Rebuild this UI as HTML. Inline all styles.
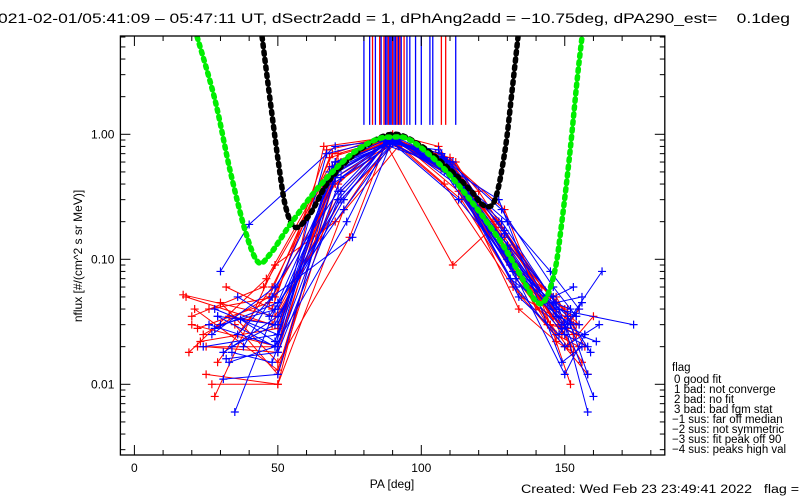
<!DOCTYPE html>
<html><head><meta charset="utf-8"><style>
html,body{margin:0;padding:0;background:#fff;}
svg{display:block;font-family:"Liberation Sans",sans-serif;}
</style></head><body>
<svg id="chart" width="800" height="500" viewBox="0 0 800 500">
<rect x="0" y="0" width="800" height="500" fill="#fff"/>
<text x="-2" y="23" font-size="13.5" fill="#000" xml:space="preserve" style="white-space:pre" textLength="792" lengthAdjust="spacingAndGlyphs">021-02-01/05:41:09 – 05:47:11 UT, dSectr2add = 1, dPhAng2add = −10.75deg, dPA290_est=    0.1deg</text>
<g id="marks"></g>
<g id="axes"></g>
<text transform="translate(82,256) rotate(-90)" text-anchor="middle" font-size="12">nflux [#/(cm^2 s sr MeV)]</text>
<text x="392" y="488" text-anchor="middle" font-size="12">PA [deg]</text>
<text x="521" y="493" font-size="11.5" xml:space="preserve" style="white-space:pre" textLength="290" lengthAdjust="spacingAndGlyphs">Created: Wed Feb 23 23:49:41 2022   flag = 0</text>
<g font-size="11.5" xml:space="preserve" style="white-space:pre">
<text x="672" y="371">flag</text>
<text x="674" y="383"> 0 good fit</text>
<text x="674" y="393"> 1 bad: not converge</text>
<text x="674" y="403"> 2 bad: no fit</text>
<text x="674" y="413"> 3 bad: bad fgm stat</text>
<text x="672" y="423">−1 sus: far off median</text>
<text x="672" y="433">−2 sus: not symmetric</text>
<text x="672" y="443">−3 sus: fit peak off 90</text>
<text x="672" y="453">−4 sus: peaks high val</text>
</g>
</svg>
<script>
// ---- data ----
const xTicks = [0, 50, 100, 150];
const xTickLabels = ["0", "50", "100", "150"];
const yTicks = [1, 0.1, 0.01];
const yTickLabels = ["1.00", "0.10", "0.01"];

const redPA = [
 [20,45,68,88,105,125,140,150],[25,50,70,90,110,130,148,152],[18,48,72,91,112,128,145,155],
 [22,50,66,89,108,132,150,158],[28,49,70,92,114,135,146,153],[30,50,75,88,110,120,142,150],
 [24,47,69,90,106,130,148,156],[35,50,71,87,111,127,143,154],[19,46,68,91,109,133,151,160],
 [27,50,73,89,107,129,145,152],[32,48,67,90,113,131,147,157],[21,50,70,92,110,126,149,155],
 [17,49,72,90,108,128,144,151],[23,50,71,89,112,134,147,153],[26,49,68,90,110,129,146,150],
 [20,50,70,91,109,131,148,154],[29,48,69,89,111,127,145,152],[33,50,72,90,108,130,147,155],
 [22,47,70,92,110,128,149,151],[25,50,71,88,109,132,144,153]
];
const redVal = [
 [0.035,0.06,0.5,0.95,0.7,0.2,0.04,0.03],[0.012,0.01,0.6,0.9,0.5,0.1,0.03,0.02],
 [0.05,0.03,0.3,0.85,0.6,0.15,0.05,0.03],[0.02,0.02,0.8,0.95,0.4,0.06,0.02,0.012],
 [0.008,0.09,0.2,0.8,0.3,0.05,0.035,0.025],[0.045,0.015,0.15,0.9,0.65,0.35,0.06,0.04],
 [0.025,0.05,0.7,1.0,0.8,0.12,0.03,0.015],[0.03,0.012,0.4,0.9,0.09,0.2,0.045,0.03],
 [0.018,0.07,0.55,0.92,0.55,0.07,0.02,0.035],[0.01,0.01,0.25,0.88,0.7,0.25,0.03,0.01],
 [0.06,0.04,0.75,0.97,0.35,0.09,0.05,0.02],[0.04,0.013,0.45,0.9,0.6,0.18,0.025,0.04],
 [0.052,0.035,0.35,0.9,0.55,0.12,0.03,0.028],[0.022,0.028,0.6,0.93,0.45,0.04,0.022,0.018],
 [0.04,0.05,0.65,0.92,0.6,0.15,0.04,0.03],[0.03,0.02,0.5,0.9,0.5,0.1,0.03,0.025],
 [0.015,0.06,0.55,0.88,0.45,0.2,0.05,0.035],[0.035,0.03,0.6,0.93,0.55,0.12,0.025,0.02],
 [0.028,0.045,0.4,0.9,0.6,0.18,0.03,0.04],[0.02,0.018,0.7,0.9,0.5,0.08,0.045,0.03]
];
const bluePA = [
 [30,40,70,89,110,130,150,158],[35,49,72,90,108,132,148,160],[26,50,68,91,112,128,146,153],
 [33,49,74,88,106,133,150,162],[29,50,70,90,110,130,145,155],[38,48,76,89,109,127,149,156],
 [31,50,69,92,111,131,152,158],[27,49,71,88,107,129,147,174],[36,47,73,90,113,130,150,157],
 [24,50,67,91,110,134,148,163],[34,48,72,89,108,128,146,154],[28,50,70,90,109,132,151,159],
 [32,50,71,89,111,129,147,156],[37,49,69,91,107,131,149,161],[30,50,70,90,110,130,147,155],
 [34,49,72,89,109,129,149,157],[28,50,71,91,111,131,146,152],[36,48,69,90,108,133,150,158],
 [31,50,73,88,110,128,148,154],[29,49,70,92,112,130,151,156]
];
const blueVal = [
 [0.08,0.19,0.8,0.9,0.6,0.1,0.03,0.006],[0.006,0.04,0.3,0.85,0.5,0.08,0.04,0.008],
 [0.03,0.02,0.5,0.9,0.4,0.15,0.05,0.06],[0.015,0.02,0.2,0.85,0.75,0.06,0.02,0.03],
 [0.035,0.03,0.6,0.95,0.5,0.2,0.08,0.04],[0.02,0.05,0.15,0.8,0.55,0.3,0.015,0.02],
 [0.011,0.012,0.4,0.9,0.45,0.07,0.03,0.012],[0.025,0.06,0.35,0.9,0.7,0.12,0.04,0.03],
 [0.05,0.035,0.25,0.85,0.3,0.1,0.012,0.025],[0.02,0.025,0.7,0.95,0.6,0.05,0.025,0.08],
 [0.018,0.015,0.45,0.88,0.65,0.25,0.06,0.035],[0.028,0.045,0.5,0.9,0.5,0.09,0.035,0.018],
 [0.016,0.018,0.3,0.9,0.6,0.16,0.045,0.05],[0.033,0.022,0.55,0.87,0.7,0.11,0.028,0.022],
 [0.03,0.04,0.45,0.9,0.55,0.13,0.035,0.03],[0.02,0.03,0.35,0.88,0.6,0.17,0.03,0.025],
 [0.04,0.025,0.5,0.92,0.5,0.09,0.045,0.04],[0.025,0.05,0.55,0.9,0.65,0.07,0.025,0.02],
 [0.018,0.035,0.3,0.87,0.5,0.2,0.04,0.035],[0.035,0.02,0.6,0.9,0.45,0.12,0.03,0.045]
];
const peakRedPA = [83,85.5,87,88.5,90,91.5,92.5,94,107,108.5];
const peakBluePA = [80,82,84,86,87.5,88,89,89.5,90.5,91,92,93,95,96,98,100,103,104,112];
const peakLineTop = 1.19;
const greenPA = [21.9,28.1,33.3,38.6,43.1,47.3,54.3,64.7,75.2,83.9,89.8,96.1,106.6,117,127.5,134.5,139.7,143.1,146.6,149,151.9,154.3,156];
const greenVal = [6,1.88,0.52,0.17,0.095,0.11,0.19,0.39,0.68,0.9,0.95,0.9,0.57,0.3,0.14,0.075,0.047,0.047,0.082,0.2,0.75,2.7,6];
const blackPA = [44.5,47.3,50.1,52.6,56,61.2,68,78.6,89.8,99.5,110,117,121.8,125.7,129.2,131.6,133.7];
const blackVal = [6,1.88,0.62,0.27,0.18,0.23,0.43,0.75,1.0,0.82,0.52,0.36,0.27,0.3,0.75,2.2,6];

// ---- scales ----
const L=120.4, R=664.8, T=36, B=455;
const X = d => 134.4 + 2.869*d;
const Y = v => 134.3 - 125*Math.log10(v);
const NS="http://www.w3.org/2000/svg";
const marks=document.getElementById('marks');
const axes=document.getElementById('axes');
function mk(tag, attrs, parent){const e=document.createElementNS(NS,tag);for(const k in attrs)e.setAttribute(k,attrs[k]);parent.appendChild(e);return e;}

const clip=mk('clipPath',{id:'pc'},marks);
mk('rect',{x:L,y:T,width:R-L,height:B-T},clip);
const plot=mk('g',{'clip-path':'url(#pc)'},marks);

function drawSeries(pas, vals, color, name){
  for(let s=0;s<pas.length;s++){
    const g=mk('g',{},plot);
    
    
    const pts=pas[s].map((p,i)=>X(p).toFixed(1)+','+Y(vals[s][i]).toFixed(1)).join(' ');
    mk('polyline',{points:pts,fill:'none',stroke:color,'stroke-width':1},g);
    pas[s].forEach((p,i)=>{
      const x=X(p),y=Y(vals[s][i]);
      mk('path',{d:`M${x-4},${y}H${x+4}M${x},${y-4}V${y+4}`,stroke:color,'stroke-width':1.2},g);
    });
  }
}
function drawPeaks(pas,color,name){
  pas.forEach(p=>{
    const l=mk('line',{x1:X(p),x2:X(p),y1:T,y2:Y(peakLineTop),stroke:color,'stroke-width':1.3},plot);
    
    
  });
}
drawPeaks(peakBluePA,'#0000ff','peak-line-blue');
drawPeaks(peakRedPA,'#ff0000','peak-line-red');
drawSeries(redPA,redVal,'#ff0000','red-trace');
drawSeries(bluePA,blueVal,'#0000ff','blue-trace');

function smoothPath(pts){
  let d=`M${pts[0][0].toFixed(1)},${pts[0][1].toFixed(1)}`;
  for(let i=0;i<pts.length-1;i++){
    const p0=pts[Math.max(0,i-1)],p1=pts[i],p2=pts[i+1],p3=pts[Math.min(pts.length-1,i+2)];
    const c1=[p1[0]+(p2[0]-p0[0])/6,p1[1]+(p2[1]-p0[1])/6];
    const c2=[p2[0]-(p3[0]-p1[0])/6,p2[1]-(p3[1]-p1[1])/6];
    d+=`C${c1[0].toFixed(1)},${c1[1].toFixed(1)} ${c2[0].toFixed(1)},${c2[1].toFixed(1)} ${p2[0].toFixed(1)},${p2[1].toFixed(1)}`;
  }
  return d;
}
function drawCurve(pa,val,color,name){
  const pts=pa.map((p,i)=>[X(p),Y(val[i])]);
  const c=mk('path',{d:smoothPath(pts),fill:'none',stroke:color,'stroke-width':5.5,'stroke-linecap':'round','stroke-linejoin':'round','stroke-dasharray':'2.5 5'},plot);
  
  
}
drawCurve(blackPA,blackVal,'#000000','black-fit-curve');
drawCurve(greenPA,greenVal,'#00ee00','green-fit-curve');

// ---- axes ----
const frame=mk('rect',{x:L,y:T,width:R-L,height:B-T,fill:'none',stroke:'#000','stroke-width':1.3},axes);


for(let d=0; d<=180; d+=10){
  const len = (d%50===0)?10:5, x=X(d);
  mk('line',{x1:x,x2:x,y1:B,y2:B-len,stroke:'#000'},axes);
  mk('line',{x1:x,x2:x,y1:T,y2:T+len,stroke:'#000'},axes);
}
xTicks.forEach((d,i)=>{
  const t=mk('text',{x:X(d),y:B+17,'text-anchor':'middle','font-size':12},axes);
  t.textContent=xTickLabels[i];
  
  
});
for(let n=-3;n<=0;n++){
  for(let k=1;k<=9;k++){
    const v=k*Math.pow(10,n), y=Y(v);
    if(y<T||y>B) continue;
    const len=(k===1)?10:5;
    mk('line',{x1:L,x2:L+len,y1:y,y2:y,stroke:'#000'},axes);
    mk('line',{x1:R,x2:R-len,y1:y,y2:y,stroke:'#000'},axes);
  }
}
yTicks.forEach((v,i)=>{
  const t=mk('text',{x:L-6,y:Y(v)+4,'text-anchor':'end','font-size':12},axes);
  t.textContent=yTickLabels[i];
  
  
});
</script>
</body></html>
